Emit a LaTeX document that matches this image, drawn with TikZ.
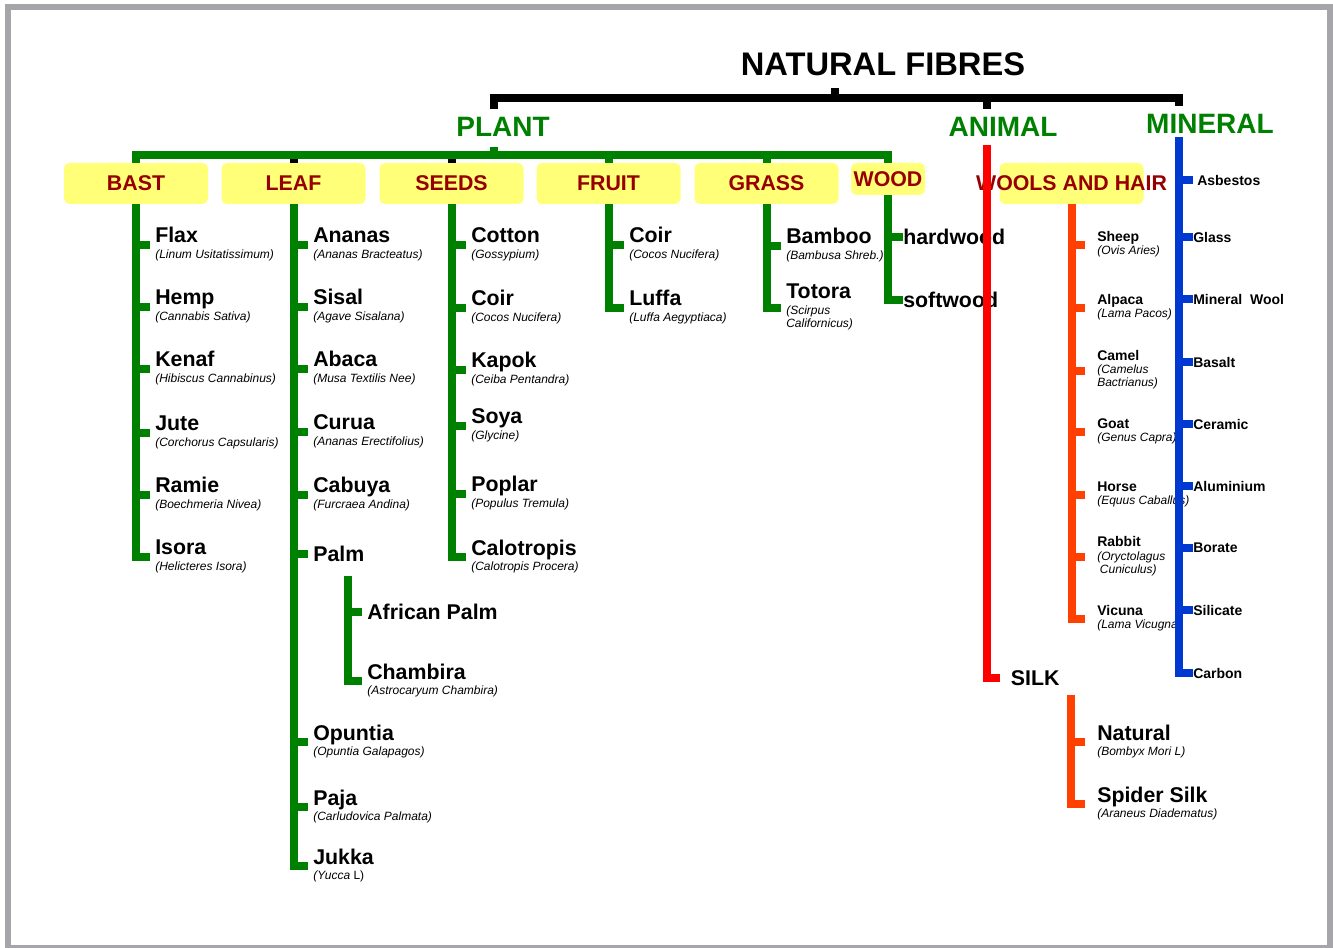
\documentclass[tikz,border=0pt]{standalone}
\usepackage{fontspec}
\setmainfont{Liberation Sans}
\usepackage{array}
\usetikzlibrary{positioning}
\definecolor{fibGreen}{RGB}{0,128,0}
\definecolor{fibRed}{RGB}{255,0,0}
\definecolor{fibOrange}{RGB}{255,64,0}
\definecolor{fibBlue}{RGB}{0,56,210}
\definecolor{fibYellow}{RGB}{255,255,120}
\definecolor{fibMaroon}{RGB}{150,0,0}
\definecolor{fibFrame}{RGB}{166,166,170}

\newcommand{\fibname}{\fontsize{16}{18}\selectfont\bfseries\upshape}
\newcommand{\fibsmall}{\fontsize{10.5}{12}\selectfont\bfseries\upshape}
\newcommand{\fibsci}{\fontsize{9}{10}\selectfont\itshape}
\newcommand{\fibitem}[2]{\begin{tabular}{@{}>{\fibsci}l@{}}\fibname #1\\[1.6pt]#2\end{tabular}}
\newcommand{\woolitem}[2]{\begin{tabular}{@{}>{\fibsci}l@{}}\fibsmall #1\\#2\end{tabular}}

\begin{document}
\begin{tikzpicture}[x=0.75pt, y=-0.75pt,
    fibline/.style={line width=6pt},
    plantline/.style={fibline, draw=fibGreen},
    animalline/.style={fibline, draw=fibRed},
    woolline/.style={fibline, draw=fibOrange},
    mineralline/.style={fibline, draw=fibBlue},
    heading/.style={font=\fontsize{21}{24}\selectfont\bfseries, text=fibGreen, inner sep=6pt},
    catbox/.style={fill=fibYellow, rounded corners=4pt, text=fibMaroon,
        font=\fontsize{16}{18}\selectfont\bfseries, minimum width=108pt,
        minimum height=30.75pt, inner sep=1pt},
    fibre/.style={anchor=west, inner ysep=0pt, inner xsep=3.75pt, font=\fibsci},
    wool/.style={fibre, inner xsep=9pt},
    solo/.style={anchor=west, inner ysep=0pt, inner xsep=3.75pt, font=\fibname},
    stone/.style={anchor=west, inner sep=0pt, font=\fibsmall}
]
    \useasboundingbox (0,0) rectangle (1333,948);
    \fill[white] (0,0) rectangle (1333,948);
    \draw[fibFrame, line width=4.5pt] (7.5,7.5) rectangle (1329.5,948);

    % headings
    \node[font=\fontsize{24.5}{28}\selectfont\bfseries] (nf) at (883,64) {NATURAL FIBRES};
    \node[heading] (plant) at (503,127) {PLANT};
    \node[heading] (animal) at (1003,127) {ANIMAL};
    \node[heading] (mineral) at (1210,124) {MINERAL};

    \coordinate (nf-stem) at (835,88);
    \coordinate (nf-bar) at (835,98);
    \coordinate (plant-top) at (494,147);
    \coordinate (plant-bar) at (494,155);
    \coordinate (animal-top) at (986.5,145);
    \coordinate (mineral-top) at (1179,137);

    \draw[fibline] (nf-stem) -- (nf-bar);
    \draw[fibline] (plant-top |- plant.north) -- (plant-top |- nf-bar)
        -- (mineral-top |- nf-bar) -- (mineral-top |- mineral.north);
    \draw[fibline] (animal-top |- nf-bar) -- (animal-top |- animal.north);

    % plant groups
    \node[catbox] (bast) at (136,183.5) {BAST};
    \node[catbox] (leaf) at (293.5,183.5) {LEAF};
    \node[catbox] (seeds) at (451.5,183.5) {SEEDS};
    \node[catbox] (fruit) at (608.5,183.5) {FRUIT};
    \node[catbox] (grass) at (766.5,183.5) {GRASS};
    \node[catbox, minimum width=55.5pt, minimum height=24pt] (wood) at (888,179) {WOOD};

    \foreach \c in {leaf,seeds}
        \draw[fibline] (\c.north) -- (\c.north |- plant-bar);
    \foreach \c in {fruit,grass}
        \draw[plantline] (\c.north) -- (\c.north |- plant-bar);
    \draw[plantline] (plant-top) -- (plant-bar);
    \draw[plantline] (bast.north) -- (bast.north |- plant-bar)
        -- (wood.north |- plant-bar) -- (wood.north);

    % bast
    \foreach \id/\y/\nm/\sc in {
        flax/245/Flax/{(Linum Usitatissimum)},
        hemp/307/Hemp/{(Cannabis Sativa)},
        kenaf/369/Kenaf/{(Hibiscus Cannabinus)},
        jute/433/Jute/{(Corchorus Capsularis)},
        ramie/495/Ramie/{(Boechmeria Nivea)},
        isora/557/Isora/{(Helicteres Isora)}}{
        \node[fibre] (\id) at (150,\y) {\fibitem{\nm}{\sc}};
        \draw[plantline] (bast.south |- \id.west) -- (\id.west);
    }
    \draw[plantline] (bast.south) |- (isora.west);

    % leaf
    \foreach \id/\y/\nm/\sc in {
        ananas/245/Ananas/{(Ananas Bracteatus)},
        sisal/307/Sisal/{(Agave Sisalana)},
        abaca/369/Abaca/{(Musa Textilis Nee)},
        curua/432/Curua/{(Ananas Erectifolius)},
        cabuya/495/Cabuya/{(Furcraea Andina)},
        opuntia/742/Opuntia/{(Opuntia Galapagos)},
        paja/807/Paja/{(Carludovica Palmata)},
        jukka/866/Jukka/{(Yucca \textup{L)}}}{
        \node[fibre] (\id) at (308,\y) {\fibitem{\nm}{\sc}};
        \draw[plantline] (leaf.south |- \id.west) -- (\id.west);
    }
    \node[solo] (palm) at (308,554) {Palm};
    \draw[plantline] (leaf.south |- palm.west) -- (palm.west);
    \draw[plantline] (leaf.south) |- (jukka.west);

    \coordinate (palm-sub) at (347.5,576);
    \node[solo] (afpalm) at (362,612) {African Palm};
    \node[fibre] (chambira) at (362,681) {\fibitem{Chambira}{(Astrocaryum Chambira)}};
    \draw[plantline] (palm-sub |- afpalm.west) -- (afpalm.west);
    \draw[plantline] (palm-sub) |- (chambira.west);

    % seeds
    \foreach \id/\y/\nm/\sc in {
        cotton/245/Cotton/{(Gossypium)},
        coir/308/Coir/{(Cocos Nucifera)},
        kapok/370/Kapok/{(Ceiba Pentandra)},
        soya/426/Soya/{(Glycine)},
        poplar/494/Poplar/{(Populus Tremula)},
        calotropis/557/Calotropis/{(Calotropis Procera)}}{
        \node[fibre] (\id) at (466,\y) {\fibitem{\nm}{\sc}};
        \draw[plantline] (seeds.south |- \id.west) -- (\id.west);
    }
    \draw[plantline] (seeds.south) |- (calotropis.west);

    % fruit
    \node[fibre] (fcoir) at (624,245) {\fibitem{Coir}{(Cocos Nucifera)}};
    \node[fibre] (luffa) at (624,308) {\fibitem{Luffa}{(Luffa Aegyptiaca)}};
    \draw[plantline] (fruit.south |- fcoir.west) -- (fcoir.west);
    \draw[plantline] (fruit.south) |- (luffa.west);

    % grass
    \node[fibre] (bamboo) at (781,246) {\fibitem{Bamboo}{(Bambusa Shreb.)}};
    \node[fibre] (totora) at (781,308) {\fibitem{Totora}{(Scirpus\\Californicus)}};
    \draw[plantline] (grass.south |- bamboo.west) -- (bamboo.west);
    \draw[plantline] (grass.south) |- (totora.west);

    % wood
    \node[solo, inner xsep=0pt] (hardwood) at (903,237) {hardwood};
    \node[solo, inner xsep=0pt] (softwood) at (903,300) {softwood};
    \draw[plantline] (wood.south |- hardwood.west) -- (hardwood.west);
    \draw[plantline] (wood.south) |- (softwood.west);

    % animal
    \node[catbox] (wools) at (1071.5,183.5) {\makebox[0pt]{WOOLS AND HAIR}};
    \foreach \id/\y/\nm/\sc in {
        sheep/245/Sheep/{(Ovis Aries)},
        alpaca/308/Alpaca/{(Lama Pacos)},
        camel/370.5/Camel/{(Camelus\\Bactrianus)},
        goat/432/Goat/{(Genus Capra)},
        horse/495/Horse/{(Equus Caballus)},
        rabbit/557/Rabbit/{(Oryctolagus\\\hspace{2pt}Cuniculus)},
        vicuna/619/Vicuna/{(Lama Vicugna)}}{
        \node[wool] (\id) at (1085,\y) {\woolitem{\nm}{\sc}};
        \draw[woolline] (wools.south |- \id.west) -- (\id.west);
    }
    \draw[woolline] (wools.south) |- (vicuna.west);

    \node[solo, inner xsep=8pt] (silk) at (1000,678) {SILK};
    \draw[animalline] (animal-top) |- (silk.west);

    \coordinate (silk-sub) at (1071,695);
    \node[wool] (natural) at (1085,742) {\fibitem{Natural}{(Bombyx Mori L)}};
    \node[wool] (spider) at (1085,804) {\fibitem{Spider Silk}{(Araneus Diadematus)}};
    \draw[woolline] (silk-sub |- natural.west) -- (natural.west);
    \draw[woolline] (silk-sub) |- (spider.west);

    % mineral
    \foreach \id/\y/\nm in {
        glass/237/Glass,
        mwool/299/Mineral~ Wool,
        basalt/362/Basalt,
        ceramic/424/Ceramic,
        alu/486/Aluminium,
        borate/548/Borate,
        silicate/610/Silicate,
        carbon/673/Carbon}{
        \node[stone] (\id) at (1193,\y) {\nm};
        \draw[mineralline] (mineral-top |- \id.west) -- (\id.west);
    }
    \node[stone, inner xsep=3pt] (asbestos) at (1193,180) {Asbestos};
    \draw[mineralline] (mineral-top |- asbestos.west) -- (asbestos.west);
    \draw[mineralline] (mineral-top) |- (carbon.west);
\end{tikzpicture}
\end{document}
